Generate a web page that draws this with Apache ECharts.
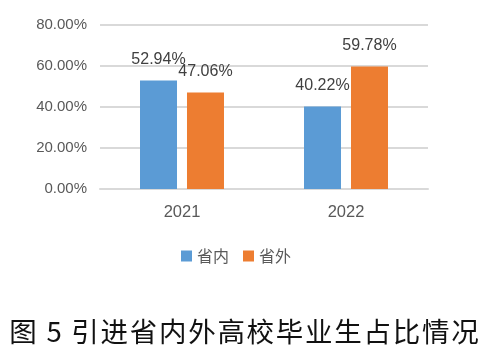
<!DOCTYPE html>
<html><head><meta charset="utf-8">
<script src="https://cdn.jsdelivr.net/npm/echarts@6/dist/echarts.min.js"></script>
<style>html,body{margin:0;padding:0;background:#fff}#c{width:488px;height:356px}</style>
</head><body><div id="c"></div>
<script>
const categories = ['2021', '2022'];
const seriesNames = ['省内', '省外'];
const inProvince = [52.94, 40.22];
const outProvince = [47.06, 59.78];
const yTicks = [0, 20, 40, 60, 80];
const titleText = '图 5 引进省内外高校毕业生占比情况';

const chart = echarts.init(document.getElementById('c'));
const spaced = titleText.split('').join('\u200A');
const lbl = {show: true, position: 'top', distance: 13, color: '#404040', fontSize: 16, fontFamily: 'Liberation Sans, Arial', formatter: p => p.value.toFixed(2) + '%'};
chart.setOption({
  animation: false,
  title: {text: spaced, left: 'center', top: 313, textStyle: {fontSize: 27.5, fontWeight: 'normal', color: '#111', fontFamily: 'Noto Sans CJK SC'}},
  legend: {data: seriesNames, top: 243, left: 176, icon: 'rect', itemWidth: 11, itemHeight: 11, itemGap: 14,
    textStyle: {fontSize: 16, color: '#595959', fontFamily: 'Noto Sans CJK SC'}},
  grid: {left: 100, right: 60, top: 25, bottom: 167},
  xAxis: {type: 'category', data: categories, axisTick: {show: false},
    axisLine: {lineStyle: {color: '#d9d9d9', width: 2}},
    axisLabel: {color: '#595959', fontSize: 16.5, margin: 15, fontFamily: 'Liberation Sans, Arial'}},
  yAxis: {type: 'value', min: yTicks[0], max: yTicks[yTicks.length - 1], interval: 20,
    axisLine: {show: false}, axisTick: {show: false},
    splitLine: {lineStyle: {color: '#d9d9d9', width: 2}},
    axisLabel: {color: '#595959', fontSize: 15, margin: 13, fontFamily: 'Liberation Sans, Arial', formatter: v => v.toFixed(2) + '%'}},
  series: [
    {name: seriesNames[0], type: 'bar', data: inProvince, barWidth: 37, barGap: '27%', itemStyle: {color: '#5B9BD5'}, label: lbl},
    {name: seriesNames[1], type: 'bar', data: outProvince, barWidth: 37, itemStyle: {color: '#ED7D31'}, label: lbl}
  ]
});
</script></body></html>
